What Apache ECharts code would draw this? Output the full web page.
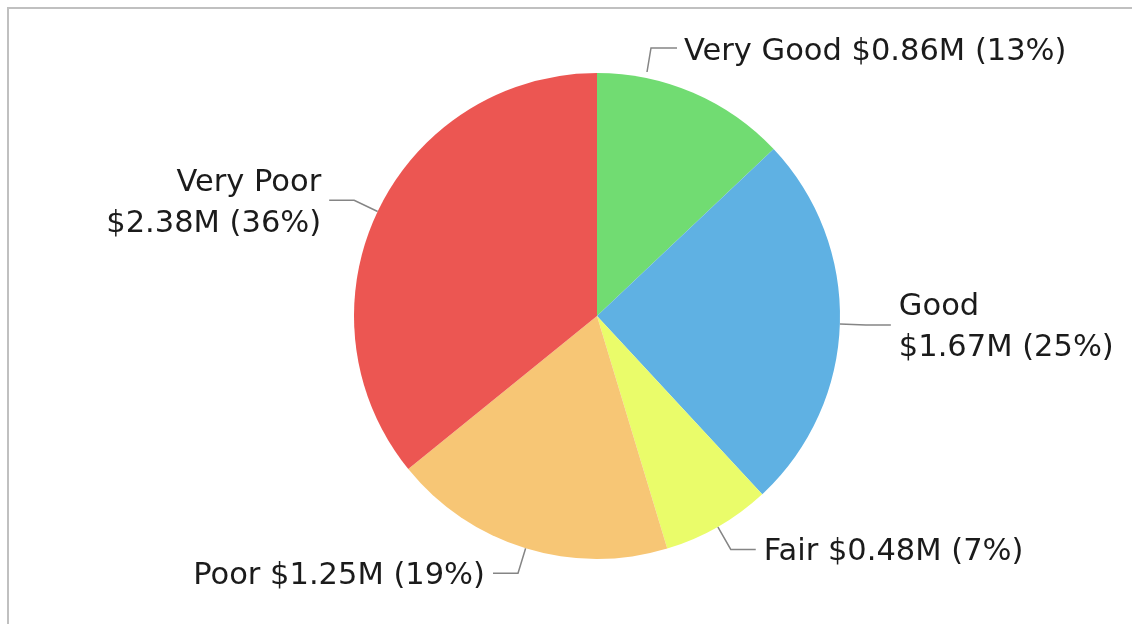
<!DOCTYPE html>
<html>
<head>
<meta charset="utf-8">
<script src="https://cdn.jsdelivr.net/npm/echarts@6/dist/echarts.min.js"></script>
<style>
  html, body { margin: 0; padding: 0; background: #ffffff; }
  #frame {
    position: absolute; left: 7px; top: 7px; width: 1125px; height: 617px;
    border-top: 2px solid #c0c0c0; border-left: 2px solid #c0c0c0;
  }
  #chart { position: absolute; left: 0; top: 0; width: 1132px; height: 624px; }
</style>
</head>
<body>
<div id="frame"></div>
<div id="chart"></div>
<script>
// Condition ratings and their values in millions of dollars
const categories = ['Very Good', 'Good', 'Fair', 'Poor', 'Very Poor'];
const valuesM = [0.86, 1.67, 0.48, 1.25, 2.38];
const colors = ['#71dc72', '#5fb1e3', '#eafc6a', '#f7c675', '#ec5652'];
// labels that break onto a second line
const wrapLabel = [false, true, false, false, true];

const chart = echarts.init(document.getElementById('chart'), null, { renderer: 'canvas' });

const data = categories.map((name, i) => ({
  name: name,
  value: valuesM[i],
  itemStyle: { color: colors[i] },
  label: {
    formatter: wrapLabel[i] ? '{b}\n${c}M ({d}%)' : '{b} ${c}M ({d}%)'
  }
}));

// anchor of the top label, tucked in above the pie
const topLabelX = 684;
const topLabelY = 52;

chart.setOption({
  animation: false,
  series: [{
    type: 'pie',
    center: [597, 316],
    radius: 243,
    startAngle: 90,
    clockwise: true,
    percentPrecision: 0,
    avoidLabelOverlap: true,
    itemStyle: { borderWidth: 0 },
    label: {
      show: true,
      position: 'outside',
      fontFamily: 'DejaVu Sans',
      fontSize: 30.5,
      lineHeight: 41,
      color: '#1b1b1b',
      distanceToLabelLine: 8
    },
    labelLine: {
      show: true,
      length: 26,
      length2: 25,
      smooth: false,
      lineStyle: { color: '#858585', width: 1.5 }
    },
    labelLayout: function (params) {
      if (params.dataIndex === 0) {
        // connector bends up from the rim to the left end of the label
        return {
          x: topLabelX, y: topLabelY, align: 'left', verticalAlign: 'middle',
          labelLinePoints: [
            [topLabelX - 37, topLabelY + 20],
            [topLabelX - 33, topLabelY - 4],
            [topLabelX - 7, topLabelY - 4]
          ]
        };
      }
      return { dy: 3 };
    },
    emphasis: { disabled: true },
    data: data
  }]
});
</script>
</body>
</html>
